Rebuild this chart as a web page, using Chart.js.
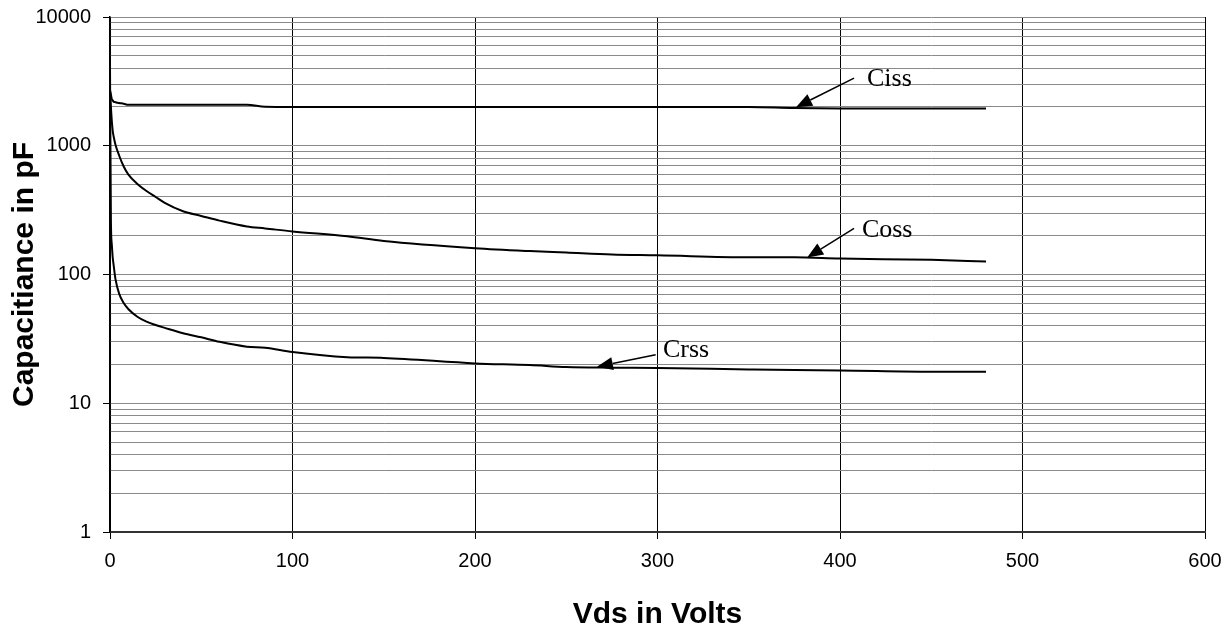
<!DOCTYPE html>
<html>
<head>
<meta charset="utf-8">
<title>Capacitance vs Vds</title>
<script src="https://cdn.jsdelivr.net/npm/chart.js@4.4.0/dist/chart.umd.min.js"></script>
<style>
    body { margin: 0; background: #fff; }
    #grafico { display: block; }
</style>
</head>
<body>
<canvas id="grafico" width="1230" height="633"></canvas>
<script>
// Datos (Vds en voltios, capacitancia en pF)
const vds = [0, 0.5, 1, 1.5, 2, 3, 5, 7.5, 10, 15, 20, 25, 30, 40, 50, 60, 75, 85, 100, 130, 150, 200, 230, 250, 275, 300, 350, 375, 400, 450, 480];
const ciss = [2700, 2500, 2300, 2250, 2200, 2180, 2150, 2120, 2080, 2080, 2080, 2080, 2080, 2080, 2080, 2080, 2080, 2010, 2000, 2000, 2000, 2000, 2000, 2000, 2000, 2000, 2000, 1960, 1950, 1950, 1950];
const coss = [2700, 2000, 1550, 1300, 1180, 1020, 840, 690, 600, 505, 445, 400, 360, 310, 285, 262, 236, 228, 216, 198, 182, 160, 152, 148, 143, 141, 136, 136, 133, 130, 126];
const crss = [4100, 260, 170, 135, 118, 92, 71, 60, 54, 47, 43, 40.5, 38.5, 35, 32.5, 30, 27.5, 27, 25, 22.8, 22.5, 20.4, 19.8, 19.1, 18.9, 18.8, 18.3, 18.1, 18, 17.6, 17.6];

// Ticks de los ejes
const xTicks = [0, 100, 200, 300, 400, 500, 600];
const yTicks = [1, 2, 3, 4, 5, 6, 7, 8, 9, 10, 20, 30, 40, 50, 60, 70, 80, 90,
    100, 200, 300, 400, 500, 600, 700, 800, 900, 1000, 2000, 3000, 4000, 5000, 6000, 7000, 8000, 9000, 10000];
const yLabels = [1, 10, 100, 1000, 10000];

// Etiquetas con flecha (en unidades de los datos)
const notas = ['Ciss', 'Coss', 'Crss'];
const notaX = [414.8, 412, 303];
const notaY = [3263, 220, 25.8];
const flechaDesdeX = [407.7, 407.7, 299];
const flechaDesdeY = [3350, 228, 23.8];
const flechaHastaX = [375.9, 382, 266.8];
const flechaHastaY = [1993, 135.6, 19.2];

function puntos(valores) {
    return vds.map((v, i) => ({ x: v, y: valores[i] }));
}

function serie(label, valores) {
    return {
        label: label,
        data: puntos(valores),
        borderColor: '#000',
        borderWidth: 2,
        pointRadius: 0,
        fill: false,
        cubicInterpolationMode: 'monotone'
    };
}

// Plugin para dibujar las etiquetas y flechas
const pluginNotas = {
    id: 'notas',
    afterDatasetsDraw(chart) {
        const ctx = chart.ctx;
        const x = chart.scales.x;
        const y = chart.scales.y;
        ctx.save();
        ctx.fillStyle = '#000';
        ctx.strokeStyle = '#000';
        ctx.lineWidth = 1.5;
        notas.forEach((texto, i) => {
            const x1 = x.getPixelForValue(flechaDesdeX[i]);
            const y1 = y.getPixelForValue(flechaDesdeY[i]);
            const x2 = x.getPixelForValue(flechaHastaX[i]);
            const y2 = y.getPixelForValue(flechaHastaY[i]);
            const ang = Math.atan2(y2 - y1, x2 - x1);
            const largo = 16, ancho = 6.5;
            const bx = x2 - largo * Math.cos(ang);
            const by = y2 - largo * Math.sin(ang);
            ctx.beginPath();
            ctx.moveTo(x1, y1);
            ctx.lineTo(bx, by);
            ctx.stroke();
            ctx.beginPath();
            ctx.moveTo(x2, y2);
            ctx.lineTo(bx + ancho * Math.sin(ang), by - ancho * Math.cos(ang));
            ctx.lineTo(bx - ancho * Math.sin(ang), by + ancho * Math.cos(ang));
            ctx.closePath();
            ctx.fill();

            ctx.font = '26px "Liberation Serif", "Times New Roman", serif';
            ctx.textAlign = 'left';
            ctx.textBaseline = 'middle';
            ctx.fillText(texto, x.getPixelForValue(notaX[i]), y.getPixelForValue(notaY[i]));
        });
        ctx.restore();
    }
};

const fuenteTicks = { family: 'Arial, "Liberation Sans", sans-serif', size: 20 };
const fuenteTitulo = { family: 'Arial, "Liberation Sans", sans-serif', size: 30, weight: 'bold' };

const ctx = document.getElementById('grafico').getContext('2d');
const grafico = new Chart(ctx, {
    type: 'line',
    data: {
        datasets: [
            serie('Ciss', ciss),
            serie('Coss', coss),
            serie('Crss', crss)
        ]
    },
    options: {
        responsive: false,
        animation: false,
        devicePixelRatio: 1,
        layout: { padding: { left: 0, top: 17, right: 25, bottom: 0 } },
        plugins: {
            legend: { display: false },
            tooltip: { enabled: false }
        },
        scales: {
            x: {
                type: 'linear',
                min: 0,
                max: 600,
                afterBuildTicks: s => { s.ticks = xTicks.map(v => ({ value: v })); },
                afterFit: s => { s.height = 101; s.paddingLeft = 0; s.paddingRight = 0; },
                ticks: { color: '#000', font: fuenteTicks, padding: 10, maxRotation: 0, autoSkip: false },
                grid: { color: '#000', lineWidth: 1, tickLength: 7, tickColor: '#000' },
                border: { color: '#333', width: 2 },
                title: { display: true, text: 'Vds in Volts', color: '#000', font: fuenteTitulo, padding: { top: 0, bottom: 0 } }
            },
            y: {
                type: 'logarithmic',
                min: 1,
                max: 10000,
                afterBuildTicks: s => { s.ticks = yTicks.map(v => ({ value: v })); },
                afterFit: s => { s.width = 110; s.paddingTop = 0; s.paddingBottom = 0; },
                ticks: {
                    color: '#000',
                    font: fuenteTicks,
                    padding: 12,
                    autoSkip: false,
                    callback: v => yLabels.includes(v) ? String(v) : ''
                },
                grid: {
                    color: '#8a8a8a',
                    lineWidth: 1,
                    tickLength: 7,
                    tickColor: c => (c.tick && yLabels.includes(c.tick.value)) ? '#000' : 'rgba(0,0,0,0)'
                },
                border: { color: '#000', width: 1.5 },
                title: { display: true, text: 'Capacitiance in pF', color: '#000', font: fuenteTitulo, padding: { top: 7, bottom: 0 } }
            }
        }
    },
    plugins: [pluginNotas]
});
</script>
</body>
</html>
